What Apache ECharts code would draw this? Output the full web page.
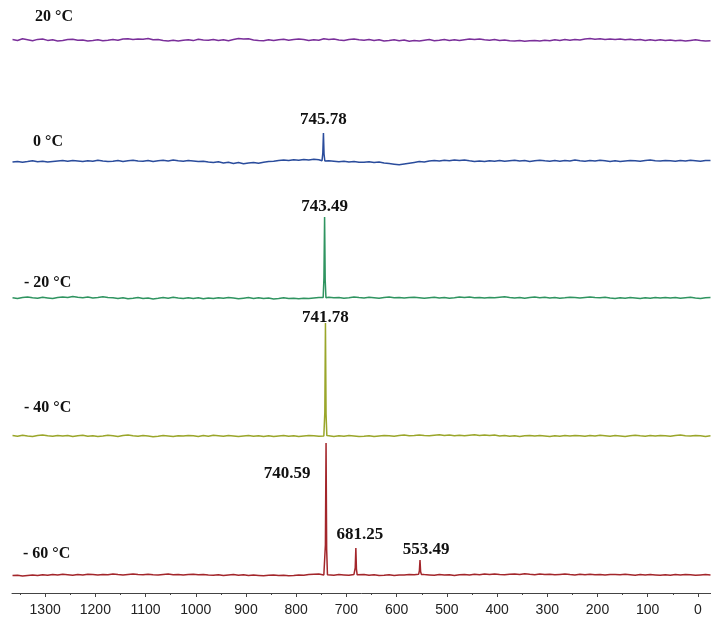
<!DOCTYPE html>
<html>
<head>
<meta charset="utf-8">
<script src="https://cdn.jsdelivr.net/npm/echarts@6/dist/echarts.min.js"></script>
<style>html,body{margin:0;padding:0;background:#fff}#c{width:711px;height:617px}</style>
</head>
<body>
<div id="c"></div>
<script>
// ---- data ----
const ppmStart = 1365, ppmStep = 10, nPts = 140;
const majorTicks = [1300,1200,1100,1000,900,800,700,600,500,400,300,200,100,0];
const minorTicks = [1350,1250,1150,1050,950,850,750,650,550,450,350,250,150,50];
const traceNames = ['20 °C','0 °C','- 20 °C','- 40 °C','- 60 °C'];
const traceOffsets = [553, 432, 295, 157, 18];

const noise20 = [
0.5,-0.5,1.2,0.3,-0.8,0.6,1.0,-0.4,0.2,-1.0,
-0.6,0.4,0.8,-0.2,0.0,-1.1,-0.5,0.3,-0.7,-0.2,
0.4,-0.3,0.9,1.3,0.6,1.1,0.7,1.4,0.2,0.5,
-0.4,-0.9,-0.3,-1.0,-0.2,0.3,-0.6,0.8,0.1,-0.3,
0.6,-0.5,0.2,-0.8,0.4,1.6,0.9,1.2,0.1,-0.4,
-0.7,0.2,-0.5,0.3,0.8,-0.2,0.6,1.0,0.4,-0.6,
0.3,-0.3,1.2,0.4,0.9,0.1,-0.5,0.6,1.1,0.2,
-0.3,0.5,-0.6,0.2,-0.9,-0.4,0.3,-0.7,0.1,-1.2,
-0.6,-1.0,-0.3,0.4,-0.8,-0.2,0.5,-0.4,0.2,-0.6,
0.3,0.9,0.4,1.0,0.2,-0.3,0.6,-0.5,0.1,-0.8,
-1.1,-0.5,-1.3,-0.8,-0.4,-1.0,-0.2,-0.7,0.2,-0.5,
0.4,-0.2,0.6,0.1,0.9,1.4,0.8,1.2,0.5,1.0,
0.6,1.1,0.2,0.7,-0.1,0.4,-0.6,0.2,-0.4,0.3,
-0.5,0.1,-0.8,-0.3,-1.0,-0.4,0.2,-0.6,-1.1,-0.7];

const noise0 = [
-1.0,-0.4,-1.3,-0.6,0.2,-0.8,-0.3,-1.1,-0.5,0.0,
0.4,-0.3,0.6,0.1,-0.5,0.3,-0.2,0.7,0.0,-0.6,
-0.2,0.5,-0.4,0.3,0.8,0.1,-0.3,0.6,-0.5,0.2,
0.7,0.1,0.9,0.3,-0.2,0.5,0.0,-0.6,-0.2,-0.9,
-1.4,-0.8,-2.0,-1.3,-2.4,-1.6,-2.8,-2.1,-1.5,-2.3,
-1.2,-0.6,-0.2,0.4,0.9,0.5,1.3,0.8,1.6,1.1,
1.8,1.2,0.0,0.3,-0.2,-0.8,-0.3,-1.0,-0.5,-1.2,
-1.3,-0.8,-1.6,-1.1,-2.0,-2.6,-3.2,-3.8,-3.0,-2.2,
-1.4,-0.6,-0.9,0.0,0.5,0.1,0.8,0.3,1.0,0.4,
0.9,0.2,-0.4,0.1,-0.6,0.3,-0.2,0.6,-0.3,0.2,
0.7,0.0,0.5,-0.4,0.3,0.8,0.2,-0.3,0.4,-0.2,
0.6,0.1,0.9,0.3,-0.2,0.5,0.0,0.7,0.2,-0.4,
0.3,-0.5,0.1,0.6,0.2,-0.3,0.4,0.9,0.3,0.0,
0.6,0.2,-0.3,0.5,0.1,0.8,0.3,-0.2,0.4,0.6];

const noiseM20 = [
0.3,-0.5,0.6,1.0,0.2,-0.3,0.8,0.1,-0.6,0.4,
1.1,0.5,1.4,0.7,0.2,0.9,-0.1,0.5,1.3,0.6,
0.2,-0.4,0.3,-0.8,-0.2,0.5,-0.5,0.1,-0.9,-0.3,
0.4,-0.2,0.7,0.0,-0.6,0.3,-0.4,0.2,-0.7,0.1,
-0.5,0.3,-0.3,0.6,0.0,-0.8,-0.2,0.4,-0.4,0.2,
-0.6,-0.1,-0.9,-0.4,0.2,-0.5,-0.2,-0.8,-0.3,-0.6,
-0.1,0.4,0.0,0.8,0.2,0.6,-0.2,0.3,0.9,0.4,
0.1,0.7,0.3,-0.2,0.5,0.9,0.2,0.6,-0.1,0.4,
0.8,0.3,-0.3,0.2,0.7,0.1,0.5,-0.2,0.3,0.9,
0.4,1.0,0.3,0.6,-0.1,0.5,0.2,0.8,1.2,0.5,
0.1,0.6,-0.2,0.4,0.9,0.3,0.7,0.0,0.5,-0.3,
0.2,0.8,0.4,-0.1,0.6,1.1,0.5,0.2,0.7,0.0,
-0.4,0.3,-0.2,0.5,0.1,-0.6,0.2,-0.3,0.4,-0.1,
0.5,0.0,0.6,-0.2,0.3,0.7,0.1,-0.4,0.2,0.4];

const noiseM40 = [
0.5,-0.2,0.8,0.1,-0.5,0.4,1.0,0.3,-0.3,0.6,
-0.1,0.5,-0.6,0.2,0.7,-0.2,0.3,-0.5,0.1,0.8,
0.3,-0.4,0.4,0.9,0.2,-0.3,0.6,0.0,-0.7,-0.2,
0.5,0.1,-0.5,0.3,-0.1,0.6,0.2,-0.4,0.4,-0.2,
0.7,0.2,-0.3,0.5,0.1,-0.6,0.0,0.4,-0.3,0.3,
-0.4,0.2,-0.6,0.1,0.5,-0.2,0.3,-0.5,0.0,0.4,
0.2,-0.3,0.0,0.3,-0.4,0.2,-0.2,0.5,0.1,-0.5,
-0.2,0.3,-0.6,0.1,0.6,0.2,-0.3,0.4,0.9,0.3,
0.6,1.1,0.5,0.2,0.8,1.2,0.4,0.9,0.3,0.7,
0.2,0.8,1.3,0.6,1.0,0.4,0.9,0.1,0.5,-0.2,
0.3,-0.4,0.2,0.6,-0.1,0.5,0.0,-0.5,0.2,-0.3,
0.4,0.0,0.6,0.2,-0.3,0.5,0.1,0.7,0.3,-0.2,
0.5,0.1,-0.4,0.3,0.8,0.2,-0.2,0.4,0.0,0.6,
0.2,-0.3,0.5,0.9,0.3,-0.1,0.6,0.2,-0.4,0.3];

const noiseM60 = [
-0.6,-0.2,-0.9,-0.4,0.1,-0.5,0.3,-0.2,0.6,0.1,
0.7,0.3,-0.2,0.5,0.0,0.8,0.4,-0.1,0.6,0.2,
0.9,0.4,0.0,0.6,1.1,0.5,0.2,0.8,0.3,-0.1,
0.5,0.9,0.3,0.6,-0.1,0.4,0.8,0.2,0.5,0.0,
-0.3,0.3,-0.5,0.1,0.4,-0.2,0.2,-0.6,-0.1,-0.4,
-0.8,-0.3,0.1,-0.5,-0.2,-0.7,-0.4,0.0,-0.3,0.5,
0.8,1.0,0.0,0.2,-0.3,0.4,0.1,-0.2,0.6,0.0,
0.5,-0.3,0.2,-0.6,-0.2,0.3,-0.4,0.1,0.0,0.4,
0.2,-0.2,0.4,0.1,-0.3,0.5,0.0,0.3,-0.4,0.2,
0.6,0.1,0.8,0.3,0.9,0.4,1.1,0.6,0.2,0.7,
1.0,0.5,1.2,0.7,0.3,0.9,0.4,0.8,0.2,0.6,
0.9,0.4,0.1,0.7,0.3,0.8,0.2,0.5,-0.1,0.4,
0.6,0.2,0.7,0.3,-0.2,0.4,0.0,0.5,0.1,-0.3,
0.3,-0.2,0.4,0.0,0.5,0.2,-0.3,0.1,0.4,0.0];

// peak profiles [ppm, height]
const peaks20 = [];
const peaks0 = [[[748.6,0.3],[747.0,8],[745.78,28],[744.6,7],[743.0,0.0]]];
const peaksM20 = [[[746.3,0.5],[744.8,20],[743.49,81],[742.3,18],[740.8,0.2]]];
const peaksM40 = [[[744.6,0.5],[743.0,24],[741.78,113],[740.6,22],[739.0,0.4]]];
const peaksM60 = [
  [[743.4,0.6],[741.9,30],[740.59,132],[739.4,26],[737.8,0.3]],
  [[684.0,0.4],[682.5,7],[681.25,27],[680.1,6],[678.6,0.2]],
  [[556.2,0.8],[554.8,4],[553.49,15],[552.3,3.5],[550.8,0.6]]];

// ---- styles ----
const colors = ['#7a2f9a','#2a4c9c','#2f9460','#9aa62a','#a3262b'];
const nameLabelPos = [[35,18],[33,143],[24,284],[24,409],[23,555]];
const peakLabelOffsets = [[], [[0,-13]], [[0,-10]], [[0,-5]], [[-39,31],[4,-13],[6,-10]]];

const noises = [noise20, noise0, noiseM20, noiseM40, noiseM60];
const peakSets = [peaks20, peaks0, peaksM20, peaksM40, peaksM60];

const grid = [];
for (let i = 0; i < nPts; i++) grid.push(ppmStart - i * ppmStep);

function buildData(noise, offset, peaks) {
  const pts = [];
  grid.forEach((p, i) => {
    const inPeak = peaks.some(pk => p <= pk[0][0] && p >= pk[pk.length - 1][0]);
    if (!inPeak) pts.push([p, offset + noise[i]]);
  });
  peaks.forEach(pk => pk.forEach(q => pts.push([q[0], offset + q[1]])));
  pts.sort((a, b) => b[0] - a[0]);
  return pts;
}

const serif = '"Liberation Serif","Times New Roman",serif';
const series = traceNames.map((nm, t) => {
  const mp = peakSets[t].map((pk, k) => {
    let apex = pk[0];
    pk.forEach(q => { if (q[1] > apex[1]) apex = q; });
    return {
      coord: [apex[0], traceOffsets[t] + apex[1]],
      value: apex[0].toFixed(2),
      label: { offset: peakLabelOffsets[t][k] }
    };
  });
  return {
    type: 'line', name: nm, xAxisIndex: 0,
    data: buildData(noises[t], traceOffsets[t], peakSets[t]),
    showSymbol: false, symbol: 'none', silent: true, clip: false,
    lineStyle: { color: colors[t], width: 1.5 },
    itemStyle: { color: colors[t] },
    markPoint: {
      symbol: 'circle', symbolSize: 1, silent: true,
      itemStyle: { color: 'rgba(0,0,0,0)' },
      label: { show: true, position: 'inside', color: '#111', fontFamily: serif, fontWeight: 'bold', fontSize: 17, formatter: p => p.value },
      data: mp
    }
  };
});

const chart = echarts.init(document.getElementById('c'), null, { renderer: 'canvas' });
chart.setOption({
  animation: false,
  backgroundColor: '#fff',
  grid: { left: 12, right: 0, top: 0, bottom: 24, containLabel: false },
  xAxis: [{
    type: 'value', min: -26, max: 1366, inverse: true, position: 'bottom',
    axisLine: { show: true, lineStyle: { color: '#444', width: 1 } },
    axisTick: { show: true, customValues: majorTicks, length: 4, lineStyle: { color: '#444' } },
    axisLabel: { show: true, customValues: majorTicks, margin: 10, fontSize: 14, color: '#222',
      fontFamily: '"Liberation Sans",Arial,sans-serif', formatter: v => String(v) },
    splitLine: { show: false }
  }, {
    type: 'value', min: -26, max: 1366, inverse: true, position: 'bottom', offset: 0,
    axisLine: { show: false },
    axisTick: { show: true, customValues: minorTicks, length: 2, lineStyle: { color: '#444' } },
    axisLabel: { show: false },
    splitLine: { show: false }
  }],
  yAxis: { type: 'value', min: 0, max: 593, show: false },
  series: series,
  graphic: traceNames.map((nm, t) => ({
    type: 'text', left: nameLabelPos[t][0], top: nameLabelPos[t][1] - 9,
    style: { text: nm, fill: '#111', font: 'bold 16px ' + serif }
  }))
});
</script>
</body>
</html>
